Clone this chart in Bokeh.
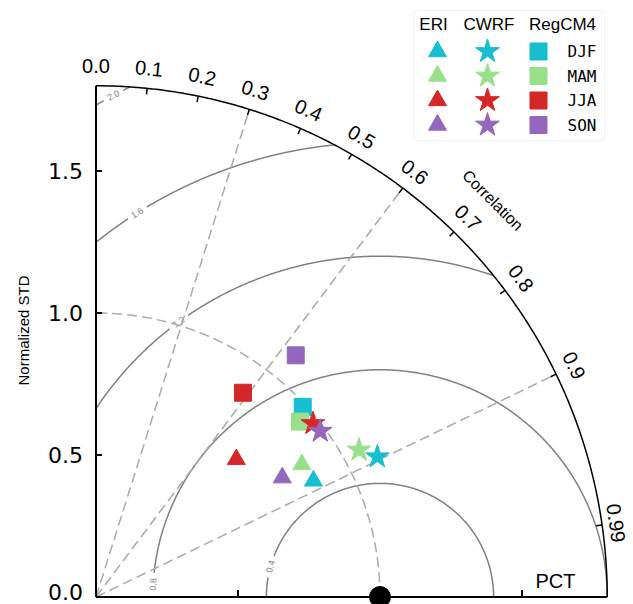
import numpy as np
from bokeh.plotting import figure
from bokeh.models import Range1d, BoxAnnotation
from bokeh.embed import file_html
from bokeh.resources import INLINE
from bokeh.core.properties import value

# ---------------- data ----------------
seasons = ["DJF", "MAM", "JJA", "SON"]
season_colors = ["#17becf", "#98df8a", "#d62728", "#9467bd"]
models = ["ERI", "CWRF", "RegCM4"]
eri_std = [0.868, 0.862, 0.692, 0.779]
eri_corr = [0.882, 0.841, 0.714, 0.842]
cwrf_std = [1.107, 1.061, 0.978, 0.982]
cwrf_corr = [0.895, 0.873, 0.781, 0.804]
regcm_std = [0.989, 0.947, 0.886, 1.104]
regcm_corr = [0.736, 0.758, 0.584, 0.637]
ref_std = 1.0
std_max = 1.8
std_ticks = [0.0, 0.5, 1.0, 1.5]
std_labels = ["0.0", "0.5", "1.0", "1.5"]
corr_ticks = [0.0, 0.1, 0.2, 0.3, 0.4, 0.5, 0.6, 0.7, 0.8, 0.9, 0.99]
corr_labels = ["0.0", "0.1", "0.2", "0.3", "0.4", "0.5", "0.6", "0.7", "0.8", "0.9", "0.99"]
corr_lines = [0.3, 0.6, 0.9]
rms_levels = [0.4, 0.8, 1.2, 1.6, 2.0]
rms_labels = ["0.4", "0.8", "1.2", "1.6", "2.0"]
rms_label_phi = [164.4, 176.8, 126.2, 122.3, 118.0]  # degrees around reference point

# ---------------- layout ----------------
S = 284.0              # pixels per unit of normalized STD
W, H = 633, 604
X0, Y0 = 95.5, 596.5   # pixel position of origin
def px(xp):
    return (xp - X0) / S
def py(yp):
    return (Y0 - yp) / S

p = figure(width=W, height=H, output_backend="svg", toolbar_location=None,
           x_range=Range1d(px(0), px(W)), y_range=Range1d(py(H), py(0)),
           min_border_left=0, min_border_right=0, min_border_top=0, min_border_bottom=0,
           x_axis_location=None, y_axis_location=None)
p.outline_line_color = None
p.background_fill_color = "white"
p.border_fill_color = "white"
p.grid.visible = False

FONT = value("Liberation Sans")
GRAY_D = "#aaaaaa"
GRAY_C = "#808080"

# RMS contours around reference point (with gaps for labels)
gap = 11.0
lab_x, lab_y, lab_a = [], [], []
for r, phl in zip(rms_levels, rms_label_phi):
    cmax = np.clip((std_max**2 - 1 - r**2) / (2 * r * ref_std), -1, 1)
    cmin = np.clip(-ref_std / r, -1, 1)
    phi = np.linspace(np.arccos(cmax), np.arccos(cmin), 800)
    phL = np.radians(phl)
    xs = ref_std + r * np.cos(phi)
    ys = r * np.sin(phi)
    mask = np.abs(phi - phL) * r * S < gap
    xs[mask] = np.nan
    ys[mask] = np.nan
    p.line(xs, ys, line_color=GRAY_C, line_width=1.5)
    lab_x.append(ref_std + r * np.cos(phL))
    lab_y.append(r * np.sin(phL))
    lab_a.append(phL - np.pi / 2)
p.text(x=lab_x, y=lab_y, text=rms_labels, angle=lab_a, text_align="center",
       text_baseline="middle", text_font=FONT, text_font_size="9px",
       text_color=GRAY_C)

# dashed correlation lines
cl = np.array(corr_lines)
p.segment(x0=np.zeros(len(cl)), y0=np.zeros(len(cl)), x1=std_max * cl,
          y1=std_max * np.sqrt(1 - cl**2), line_color=GRAY_D, line_width=1.5, line_dash="10 5")
# dashed reference std arc
th = np.linspace(0, np.pi / 2, 400)
p.line(ref_std * np.cos(th), ref_std * np.sin(th), line_color=GRAY_D, line_width=1.5,
       line_dash="10 5")

# outer arc
p.line(std_max * np.cos(th), std_max * np.sin(th), line_color="black", line_width=1.5)
# correlation ticks
ct = np.array(corr_ticks)
cth = np.arccos(ct)
tl = 6 / S
p.segment(x0=std_max * np.cos(cth), y0=std_max * np.sin(cth),
          x1=(std_max - tl) * np.cos(cth), y1=(std_max - tl) * np.sin(cth),
          line_color="black", line_width=1.5)
rl = std_max + np.where(ct > 0.95, 14, 20) / S
p.text(x=rl * np.cos(cth), y=rl * np.sin(cth), text=corr_labels, angle=cth - np.pi / 2,
       text_align="center", text_baseline="middle", text_font=FONT,
       text_font_size="20px", text_color="black")
# Correlation title
ang = np.radians(45)
rc = 561 / S
p.text(x=[rc * np.cos(ang)], y=[rc * np.sin(ang)], text=["Correlation"], angle=[ang - np.pi / 2],
       text_align="center", text_baseline="middle", text_font=FONT,
       text_font_size="16px", text_color="black")

# left axis (Normalized STD)
st = np.array(std_ticks)
p.segment(x0=[0], y0=[0], x1=[0], y1=[std_max], line_color="black", line_width=2)
p.segment(x0=np.zeros(len(st)), y0=st, x1=np.full(len(st), 6 / S), y1=st,
          line_color="black", line_width=2)
lab_st = np.maximum(st, 5 / S)
p.text(x=np.full(len(st), -13 / S), y=lab_st, text=std_labels, text_align="right",
       text_baseline="middle", text_font=value("DejaVu Sans"), text_font_size="22px",
       text_color="black")
p.text(x=[px(22.5)], y=[py(330)], text=["Normalized STD"], angle=[np.pi / 2],
       text_align="center", text_baseline="middle", text_font=FONT,
       text_font_size="15px", text_color="black")

# bottom axis
p.segment(x0=[0], y0=[0], x1=[std_max], y1=[0], line_color="black", line_width=2)
bt = np.array(std_ticks[1:])
p.segment(x0=bt, y0=np.zeros(len(bt)), x1=bt, y1=np.full(len(bt), 7 / S),
          line_color="black", line_width=2)
p.text(x=[px(555)], y=[py(580)], text=["PCT"], text_align="center", text_baseline="middle",
       text_font=FONT, text_font_size="20px", text_color="black")

# data points
def xy(std, corr):
    s = np.array(std); c = np.array(corr)
    return s * c, s * np.sqrt(1 - c**2)

ex, ey = xy(eri_std, eri_corr)
p.scatter(ex, ey, marker="triangle", size=18, fill_color=season_colors, line_color=season_colors)
rx, ry = xy(regcm_std, regcm_corr)
p.scatter(rx, ry, marker="square", size=17, fill_color=season_colors, line_color=season_colors)
cx, cy = xy(cwrf_std, cwrf_corr)
p.scatter(cx, cy, marker="star", size=25, fill_color=season_colors, line_color=season_colors)

# reference point
p.scatter([ref_std], [0], marker="circle", size=21, fill_color="black", line_color="black")

# legend (drawn manually)
p.add_layout(BoxAnnotation(left=px(413), right=px(604), top=py(10), bottom=py(140),
                           fill_color="white", fill_alpha=1.0, line_color="#d5d5d5",
                           line_width=1, border_radius=4, level="underlay"))
head_x = [433, 488.5, 562]
p.text(x=[px(v) for v in head_x], y=[py(24)] * 3, text=models, text_align="center",
       text_baseline="middle", text_font=FONT, text_font_size="17px",
       text_color="black")
row_y = [py(51 + 24.5 * i) for i in range(4)]
p.scatter([px(437)] * 4, row_y, marker="triangle", size=18, fill_color=season_colors,
          line_color=season_colors)
p.scatter([px(487)] * 4, row_y, marker="star", size=25, fill_color=season_colors,
          line_color=season_colors)
p.scatter([px(538)] * 4, row_y, marker="square", size=17, fill_color=season_colors,
          line_color=season_colors)
p.text(x=[px(567)] * 4, y=row_y, text=seasons, text_align="left", text_baseline="middle",
       text_font=value("DejaVu Sans Mono"), text_font_size="16px", text_color="black")

open("out.html", "w").write(file_html(p, INLINE))
